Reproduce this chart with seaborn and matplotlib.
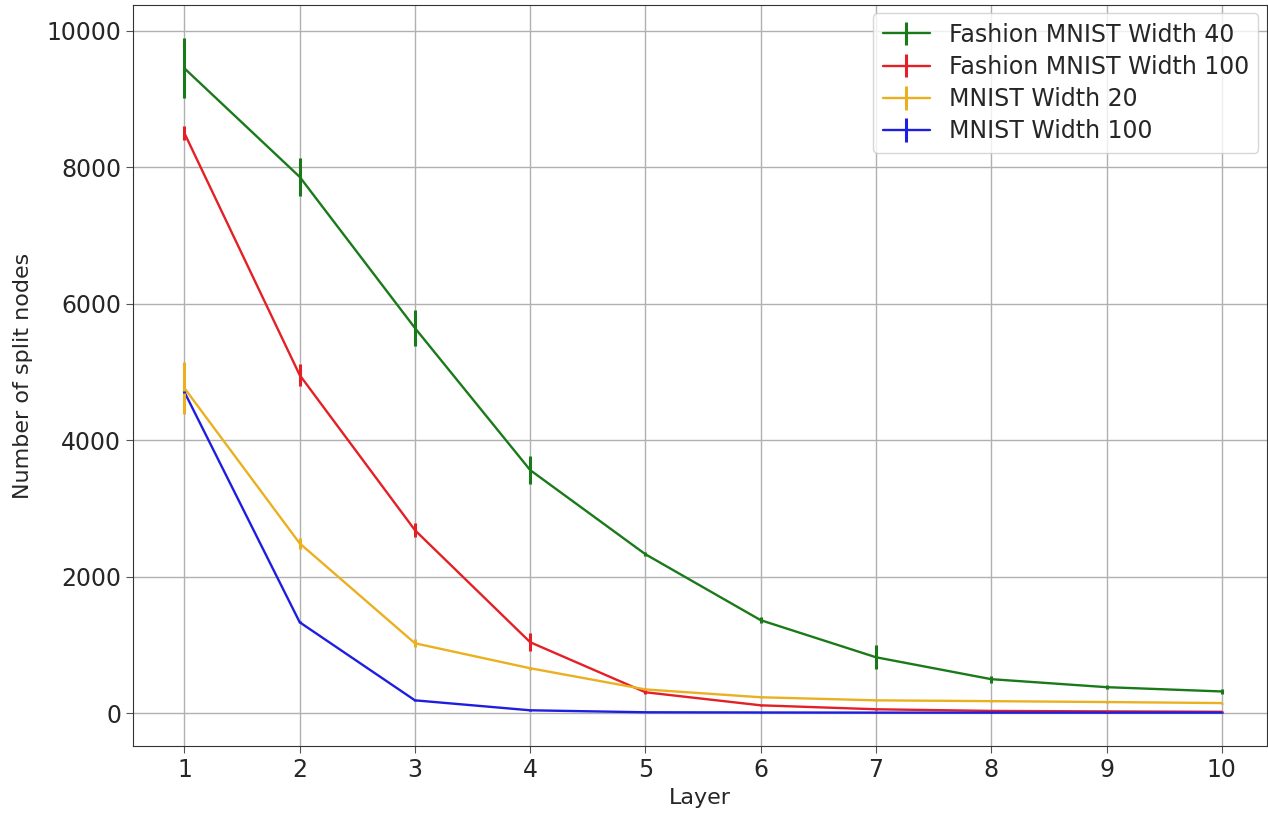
import matplotlib
matplotlib.use("Agg")
import matplotlib.pyplot as plt
import seaborn as sns
import numpy as np
import pandas as pd
from matplotlib.legend_handler import HandlerTuple

layers = [1, 2, 3, 4, 5, 6, 7, 8, 9, 10]

series_names = ["Fashion MNIST Width 40", "Fashion MNIST Width 100",
                "MNIST Width 20", "MNIST Width 100"]

fmnist40_mean = [9450, 7860, 5645, 3563, 2330, 1364, 821, 500, 383, 320]
fmnist40_err = [440, 280, 265, 200, 30, 40, 175, 50, 30, 30]

fmnist100_mean = [8500, 4956, 2683, 1041, 308, 117, 59, 35, 28, 22]
fmnist100_err = [100, 155, 100, 130, 30, 10, 8, 5, 5, 5]

mnist20_mean = [4765, 2490, 1026, 660, 350, 235, 190, 178, 165, 150]
mnist20_err = [385, 80, 60, 20, 15, 10, 8, 8, 8, 8]

mnist100_mean = [4707, 1334, 190, 44, 15, 12, 10, 10, 10, 10]
mnist100_err = [20, 15, 10, 5, 3, 3, 3, 3, 3, 3]

colors = ["#1a7a1a", "#e41f26", "#ebb020", "#1e1ee0"]

means = [fmnist40_mean, fmnist100_mean, mnist20_mean, mnist100_mean]
errs = [fmnist40_err, fmnist100_err, mnist20_err, mnist100_err]

rows = []
for name, m, e in zip(series_names, means, errs):
    for x, y, s in zip(layers, m, e):
        rows.append({"Layer": x, "Nodes": y, "Err": s, "Series": name})
df = pd.DataFrame(rows)

sns.set_style("ticks")
plt.rcParams["font.family"] = ["DejaVu Sans"]

fig = plt.figure(figsize=(12.68, 8.13), dpi=100)
ax = fig.add_axes([0.105, 0.082, 0.894, 0.912])

palette = dict(zip(series_names, colors))
sns.lineplot(data=df, x="Layer", y="Nodes", hue="Series", palette=palette,
             linewidth=1.7, legend=False, ax=ax)

handles = []
for name, line in zip(series_names, ax.lines[:len(series_names)]):
    sub = df[df["Series"] == name]
    eb = ax.errorbar(sub["Layer"], sub["Nodes"], yerr=sub["Err"], fmt="none",
                     ecolor=palette[name], elinewidth=2.2)
    handles.append((line, eb))

ax.legend(handles, series_names, handler_map={tuple: HandlerTuple(ndivide=1)},
          loc="upper right", fontsize=17, framealpha=0.8,
          borderaxespad=0.35, handlelength=2.0, labelspacing=0.35)

ax.grid(True, color="#b0b0b0", linewidth=1.0)
ax.set_axisbelow(True)
ax.set_xticks(layers)
ax.set_yticks([0, 2000, 4000, 6000, 8000, 10000])
ax.set_xlim(0.555, 10.39)
ax.set_ylim(-484, 10380)
ax.tick_params(labelsize=17, length=5, color="#555555")
ax.set_xlabel("Layer", fontsize=16)
ax.set_ylabel("Number of split nodes", fontsize=16, labelpad=10)
for sp in ax.spines.values():
    sp.set_visible(True)
    sp.set_color("#333333")

fig.savefig("out.png", dpi=100)
